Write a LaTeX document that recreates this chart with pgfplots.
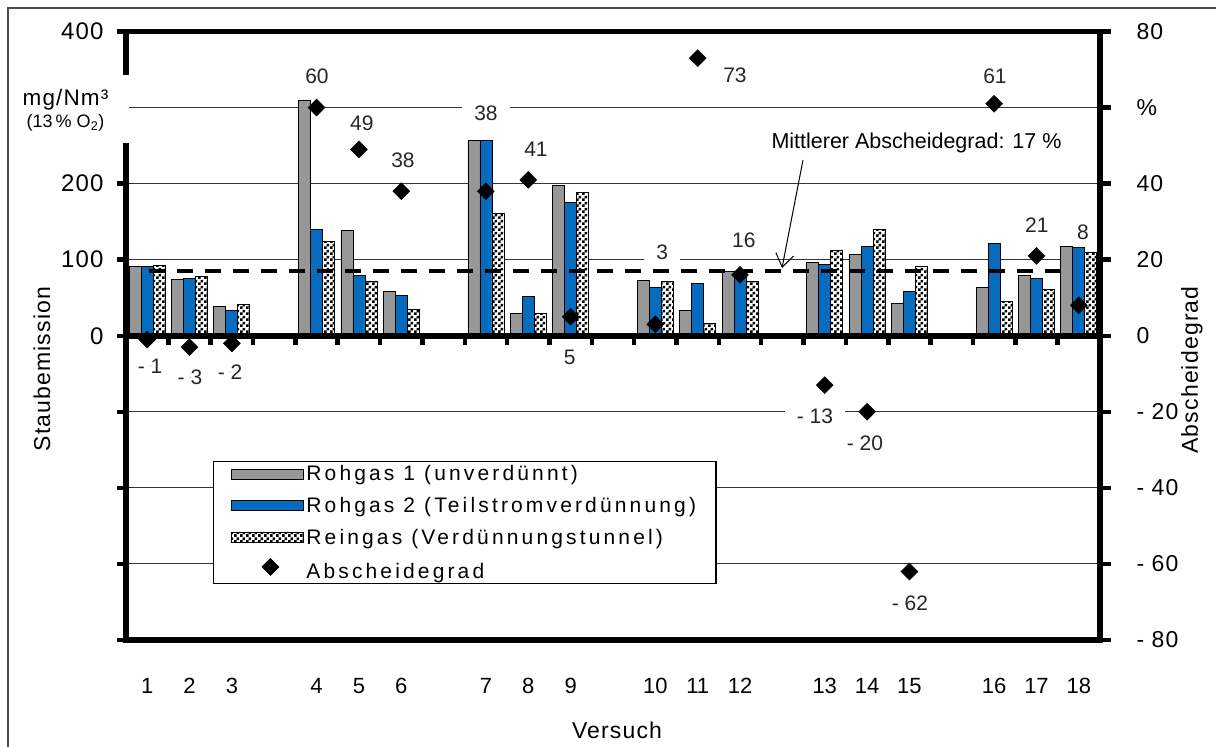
\documentclass[border=0pt]{standalone}
\usepackage{fontspec}
\setmainfont{Liberation Sans}
\newfontfamily\lsA[LetterSpace=5]{Liberation Sans}
\newfontfamily\lsB[LetterSpace=15]{Liberation Sans}
\usepackage{pgfplots}
\pgfplotsset{compat=1.18}
\usepackage{pgfplotstable}
\usetikzlibrary{patterns,arrows.meta}

\pgfdeclarepatternformonly{finecheck}{\pgfpointorigin}{\pgfpoint{6pt}{6pt}}{\pgfpoint{6pt}{6pt}}{%
 \pgfpathrectangle{\pgfpointorigin}{\pgfpoint{3pt}{3pt}}%
 \pgfpathrectangle{\pgfpoint{3pt}{3pt}}{\pgfpoint{3pt}{3pt}}%
 \pgfusepath{fill}}

\definecolor{barGray}{RGB}{151,151,151}
\definecolor{barBlue}{RGB}{8,108,190}

\pgfplotstableread[col sep=comma]{
x,r1,r2,rein,grad
0,91,91,93,-1
1,74,75,78,-3
2,38,33,41,-2
4,310,140,124,60
5,139,79,72,49
6,58,53,35,38
8,257,257,161,38
9,29,52,29,41
10,198,175,188,5
12,73,64,71,3
13,33,69,16,73
14,85,82,71,16
16,96,94,112,-13
17,107,117,140,-20
18,43,58,91,-62
20,64,121,45,61
21,79,75,61,21
22,117,116,109,8
}\datatable

% labels without background
\pgfplotstableread[col sep=comma]{
lx,ly,lab
0.07,-7.9,- 1
1.01,-10.9,- 3
1.96,-9.5,- 2
4.01,68.3,60
5.07,55.9,49
6.04,46.2,38
9.18,49.1,41
9.98,-5.6,5
13.88,68.6,73
14.09,25.2,16
16.95,-28.3,- 20
18.01,-70.3,- 62
20.02,68.3,61
21.01,29.1,21
22.1,27.3,8
}\labtable

% labels with white background (they interrupt grid lines)
\pgfplotstableread[col sep=comma]{
lx,ly,lab
8.0,58.6,38
12.16,22.0,3
15.77,-21.1,- 13
}\labtableW

\pgfplotsset{
 barleg/.style={legend image code/.code={\draw[##1] (0pt,-5pt) rectangle (72pt,5pt);}},
 diamleg/.style={legend image code/.code={\path[draw=none, fill=none] (0pt,0pt) -- (72pt,0pt);
   \node[draw=black, fill=black, rotate=45, minimum size=11.5pt, inner sep=0pt] at (35pt,0pt) {};}},
}

\begin{document}
\begin{tikzpicture}
\begin{axis}[
 at={(126pt,-640pt)}, anchor=south west, scale only axis,
 width=974pt, height=608.5pt,
 xmin=-0.5, xmax=22.5, ymin=-400, ymax=400,
 ybar=0pt, bar width=12pt,
 axis line style={line width=5.5pt},
 ytick={-400,-300,...,400}, yticklabels={,,,,0,100,200,,400},
 xtick={0,1,2,4,5,6,8,9,10,12,13,14,16,17,18,20,21,22},
 xticklabels={1,2,3,4,5,6,7,8,9,10,11,12,13,14,15,16,17,18},
 xtick pos=bottom, ytick pos=left,
 tick align=outside, major tick length=9pt,
 y tick style={line width=4.5pt, black},
 x tick style={draw=none},
 ymajorgrids, grid style={line width=1.1pt, black!80},
 xticklabel style={font=\fontsize{22}{25}\selectfont, yshift=-26pt},
 yticklabel style={font=\lsA\fontsize{24}{28}\selectfont, xshift=-10pt},
]
\addplot[draw=black, line width=0.8pt, fill=barGray] table[x=x,y=r1]{\datatable};
\addplot[draw=black, line width=0.8pt, fill=barBlue] table[x=x,y=r2]{\datatable};
\addplot[draw=black, line width=0.8pt, fill=white, postaction={pattern=finecheck}] table[x=x,y=rein]{\datatable};
\draw[line width=5.5pt] (axis cs:-0.5,0) -- (axis cs:22.5,0);
\pgfplotsinvokeforeach{0.5,1.5,2.5,3.5,4.5,5.5,6.5,7.5,8.5,9.5,10.5,11.5,12.5,13.5,14.5,15.5,16.5,17.5,18.5,19.5,20.5,21.5}{
 \draw[line width=4.5pt] (axis cs:#1,0) -- ([yshift=-9pt]axis cs:#1,0);
}
\end{axis}
\begin{axis}[
 at={(126pt,-640pt)}, anchor=south west, scale only axis,
 width=974pt, height=608.5pt,
 xmin=-0.5, xmax=22.5, ymin=-80, ymax=80,
 axis x line=none, axis y line*=right,
 y axis line style={line width=5.5pt},
 ytick={-80,-60,...,80},
 yticklabels={- 80,- 60,- 40,- 20,0,20,40,\%,80},
 tick align=outside, major tick length=11pt,
 y tick style={line width=4.5pt, black},
 yticklabel style={font=\lsA\fontsize{23}{27}\selectfont, anchor=west, xshift=22pt},
 legend style={at={(0.0893,0.2942)}, anchor=north west, draw=black, line width=1.2pt,
   fill=white, font=\lsB\fontsize{21}{25}\selectfont, inner xsep=17pt, inner ysep=1.5pt,
   row sep=10pt, nodes={inner ysep=2.5pt, inner xsep=3pt}},
 legend cell align=left,
]
\addlegendimage{barleg, draw=black, line width=0.8pt, fill=barGray}
\addlegendentry{Rohgas 1 (unverdünnt)}
\addlegendimage{barleg, draw=black, line width=0.8pt, fill=barBlue}
\addlegendentry{Rohgas 2 (Teilstromverdünnung)\hspace{25pt}}
\addlegendimage{barleg, draw=black, line width=0.8pt, fill=white, postaction={pattern=finecheck}}
\addlegendentry{Reingas (Verdünnungstunnel)}
\addplot[only marks, mark=square*, mark size=6pt, mark options={rotate=45, fill=black, draw=black}, diamleg]
 table[x=x,y=grad]{\datatable};
\addlegendentry{Abscheidegrad}
\addplot[line width=4pt, dash pattern=on 16pt off 12pt, forget plot] coordinates {(0.04,17) (21.8,17)};
\addplot[only marks, mark=*, mark size=0.1pt, mark options={draw=none, fill=none}, forget plot,
 nodes near coords, point meta=explicit symbolic,
 every node near coord/.style={anchor=center, inner sep=1pt,
   font=\fontsize{21}{24}\selectfont, text=black!85}]
 table[x=lx, y=ly, meta=lab]{\labtable};
\addplot[only marks, mark=*, mark size=0.1pt, mark options={draw=none, fill=none}, forget plot,
 nodes near coords, point meta=explicit symbolic,
 every node near coord/.style={anchor=center, fill=white, inner xsep=12pt, inner ysep=2pt,
   font=\fontsize{21}{24}\selectfont, text=black!85}]
 table[x=lx, y=ly, meta=lab]{\labtableW};
\end{axis}
% label area of left axis
\fill[white] (10pt,-75pt) rectangle (129pt,-143pt);
\node[font=\lsA\fontsize{22.5}{26}\selectfont] at (65.5pt,-100pt) {mg/Nm³};
\node[font=\fontsize{18}{21}\selectfont] at (65.5pt,-123pt) {(13\,\% O\textsubscript{2})};
\node[rotate=90, font=\lsA\fontsize{23}{26}\selectfont] at (42pt,-369pt) {Staubemission};
\node[rotate=90, font=\lsA\fontsize{23}{26}\selectfont] at (1192pt,-370pt) {Abscheidegrad};
\node[font=\lsA\fontsize{23}{26}\selectfont] at (617pt,-730pt) {Versuch};
\node[font=\fontsize{21.5}{25}\selectfont] at (916.5pt,-143pt) {Mittlerer Abscheidegrad: 17 \%};
\draw[line width=1pt, -{Straight Barb[length=13pt,width=18pt,line width=1pt]}] (803pt,-160pt) -- (782pt,-268pt);
\draw[line width=1.5pt, black!70] (8pt,-8pt) rectangle (1240pt,-780pt);
\pgfresetboundingbox
\useasboundingbox (0pt,0pt) rectangle (1216pt,-747pt);
\end{tikzpicture}
\end{document}
